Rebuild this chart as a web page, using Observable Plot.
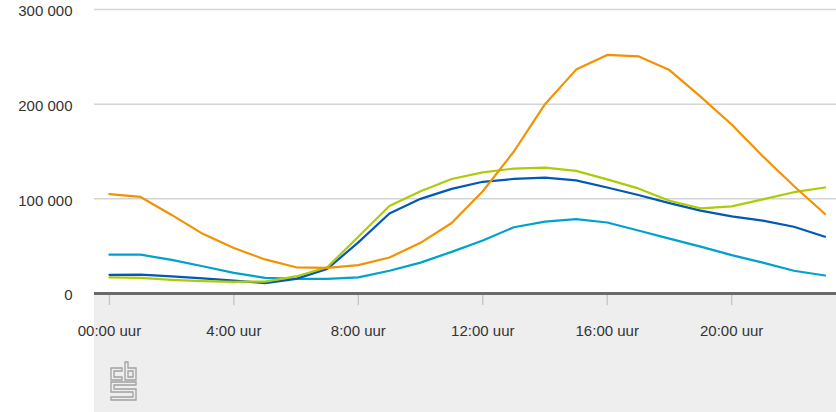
<!DOCTYPE html>
<html><head><meta charset="utf-8">
<script src="https://cdn.jsdelivr.net/npm/d3@7"></script>
<script src="https://cdn.jsdelivr.net/npm/@observablehq/plot@0.6"></script>
<style>
html,body{margin:0;padding:0;background:#fff;}
#wrap{position:relative;width:836px;height:412px;overflow:hidden;}
#bg{position:absolute;left:94px;top:293px;width:742px;height:119px;background:#eeeeee;}
#chart{position:absolute;left:0;top:0;}
#logo{position:absolute;left:109px;top:360px;}
</style></head><body>
<div id="wrap"><div id="bg"></div><div id="chart"></div>
<svg id="logo" width="30" height="42" viewBox="0 0 30 42" fill="none" stroke="#a0a0a0" stroke-width="1.3">
  <path d="M2 8 H13 V11 H5 V17 H13 V20 H2 Z"/>
  <path d="M16 2 H19 V8 H27 V20 H16 Z"/>
  <path d="M19 11 H24 V17 H19 Z"/>
  <path d="M2 22 H27 V25 H5 V29 H27 V40 H2 V37 H24 V32 H2 Z"/>
</svg>
</div>
<script>
const hours = [0,1,2,3,4,5,6,7,8,9,10,11,12,13,14,15,16,17,18,19,20,21,22,23];
const seriesNames = ["lichtblauw","donkerblauw","groen","oranje"];
const seriesColors = ["#00a1cd","#0058b8","#afcb05","#f39200"];
const lightBlue = [41000,41000,35500,28800,21800,16500,15400,15400,17000,24000,32600,44000,56000,70000,76000,78600,75000,66500,58000,49500,40500,32600,24000,19000];
const darkBlue = [19700,20000,18000,16000,13700,11000,15400,26000,54000,84500,100000,110500,118000,121000,122500,119500,112000,104000,95500,87500,81500,77000,70500,60000];
const green = [17000,16500,14400,13000,12300,12600,18000,27700,60000,92500,108000,121000,128000,132000,133000,129500,120500,111000,98000,90000,92000,99500,107000,112000];
const orange = [105000,102000,83000,63000,48000,36000,27700,27000,30000,38000,53500,74500,108000,150000,200000,236500,252000,250500,236000,208000,178500,145000,113500,84000];
const xTicks = [0,4,8,12,16,20];
const yTicks = [0,100000,200000,300000];

const allSeries = [lightBlue, darkBlue, green, orange];
const data = [];
allSeries.forEach((vals, i) => vals.forEach((v, j) => data.push({hour: hours[j], value: v, series: seriesNames[i]})));

const fmt = d => d3.format(",")(d).replace(/,/g, " ");

const chart = Plot.plot({
  width: 836, height: 412,
  marginLeft: 94, marginRight: 0, marginTop: 9, marginBottom: 119,
  style: {background: "transparent", fontFamily: "'Liberation Sans', Arial, sans-serif", fontSize: "15px", color: "#333"},
  x: {domain: [-0.48, 23.37], label: null},
  y: {domain: [0, 300000], label: null},
  color: {domain: seriesNames, range: seriesColors},
  marks: [
    Plot.gridY(yTicks.slice(1), {stroke: "#d4d4d4", strokeOpacity: 1, strokeWidth: 1.5}),
    Plot.axisY(yTicks, {tickFormat: fmt, tickSize: 0, tickPadding: 22, dy: 2, fill: "#333", label: null}),
    Plot.axisX(xTicks, {tickFormat: h => (h === 0 ? "00" : h) + ":00 uur", tickSize: 12, tickPadding: 20, stroke: "#c4c4c4", strokeWidth: 1.3, fill: "#333", label: null}),
    Plot.line(data, {x: "hour", y: "value", z: "series", stroke: "series", strokeWidth: 2.2}),
    Plot.ruleY([0], {stroke: "#6a6a6a", strokeWidth: 3})
  ]
});
document.getElementById("chart").appendChild(chart);
</script>
</body></html>
